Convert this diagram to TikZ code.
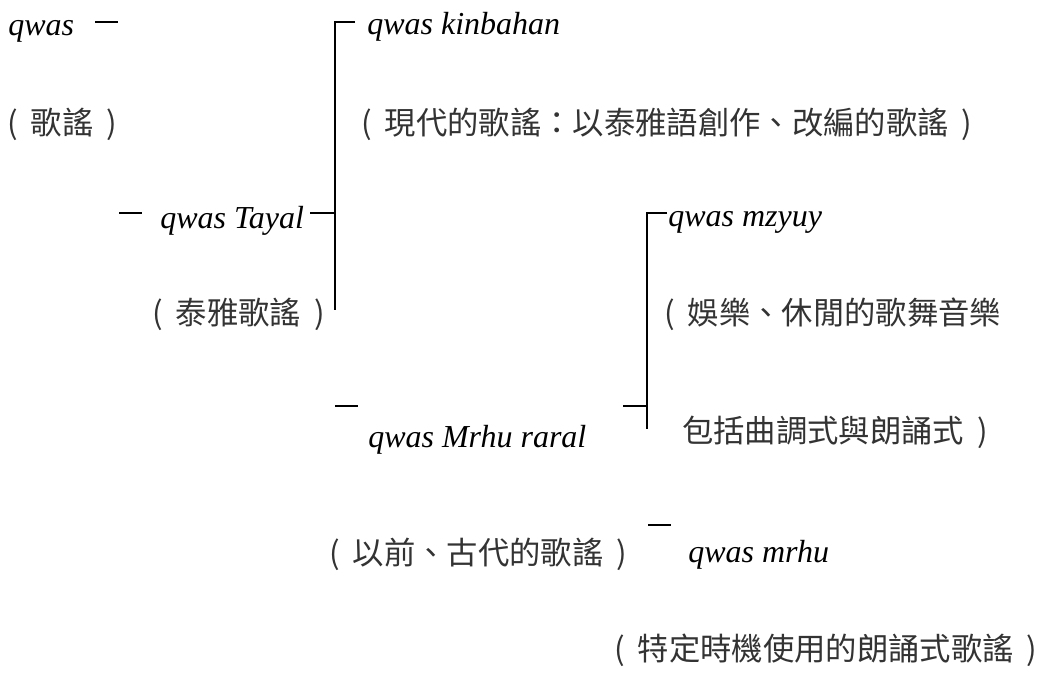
\documentclass[tikz,border=0pt]{standalone}
\usepackage{fontspec}
\setmainfont{Liberation Serif}
\newfontfamily\cjk{Noto Sans CJK TC}
\newcommand\LPz{\makebox[0.75em][l]{(}}
\newcommand\RPz{\makebox[0.75em][r]{)}}
\begin{document}
\begin{tikzpicture}[x=0.75pt,y=-0.75pt,
  lat/.style={font=\fontsize{24pt}{28pt}\selectfont\itshape, inner sep=0pt, anchor=base west},
  zh/.style={font=\cjk\fontsize{23.5pt}{28pt}\selectfont, text=black!80, inner sep=0pt, anchor=base west},
  ln/.style={line width=1.4pt}]
\useasboundingbox (0,0) rectangle (1048,689);
% texts
\node[lat] (qwas) at (8,35) {qwas};
\node[zh] (gy) at (7,134) {\LPz 歌謠\RPz};
\node[lat] (kin) at (367,34) {qwas kinbahan};
\node[zh] (modern) at (361,134) {\LPz 現代的歌謠：以泰雅語創作、改編的歌謠\RPz};
\node[lat] (tayal) at (160,228) {qwas Tayal};
\node[zh] (tayalzh) at (152,324) {\LPz 泰雅歌謠\RPz};
\node[lat] (mzyuy) at (668,226) {qwas mzyuy};
\node[zh] (mz1) at (664,324) {\LPz 娛樂、休閒的歌舞音樂};
\node[zh] (mz2) at (682,442) {包括曲調式與朗誦式\RPz};
\node[lat] (raral) at (368,447) {qwas Mrhu raral};
\node[zh] (ancient) at (329,564) {\LPz 以前、古代的歌謠\RPz};
\node[lat] (mrhu) at (688,562) {qwas mrhu};
\node[zh] (special) at (614,660) {\LPz 特定時機使用的朗誦式歌謠\RPz};
% bracket points
\coordinate (d0a) at (95,22);  \coordinate (d0b) at (118,22);
\coordinate (t0a) at (119,213); \coordinate (t0b) at (142,213);
\coordinate (t1a) at (310,213); \coordinate (b1m) at (335,213);
\coordinate (b1tip) at (355,22); \coordinate (b1top) at (335,22); \coordinate (b1bot) at (335,310);
\coordinate (r0a) at (335,406); \coordinate (r0b) at (358,406);
\coordinate (r1a) at (623,406); \coordinate (b2m) at (647,406);
\coordinate (b2tip) at (667,213); \coordinate (b2top) at (647,213); \coordinate (b2bot) at (647,429);
\coordinate (m0a) at (648,525); \coordinate (m0b) at (671,525);
% lines
\draw[ln] (d0a) -- (d0b);
\draw[ln] (t0a) -- (t0b);
\draw[ln] (t1a) -- (b1m);
\draw[ln] (b1tip) -- (b1top) -- (b1bot);
\draw[ln] (r0a) -- (r0b);
\draw[ln] (r1a) -- (b2m);
\draw[ln] (b2tip) -- (b2top) -- (b2bot);
\draw[ln] (m0a) -- (m0b);
\end{tikzpicture}
\end{document}
